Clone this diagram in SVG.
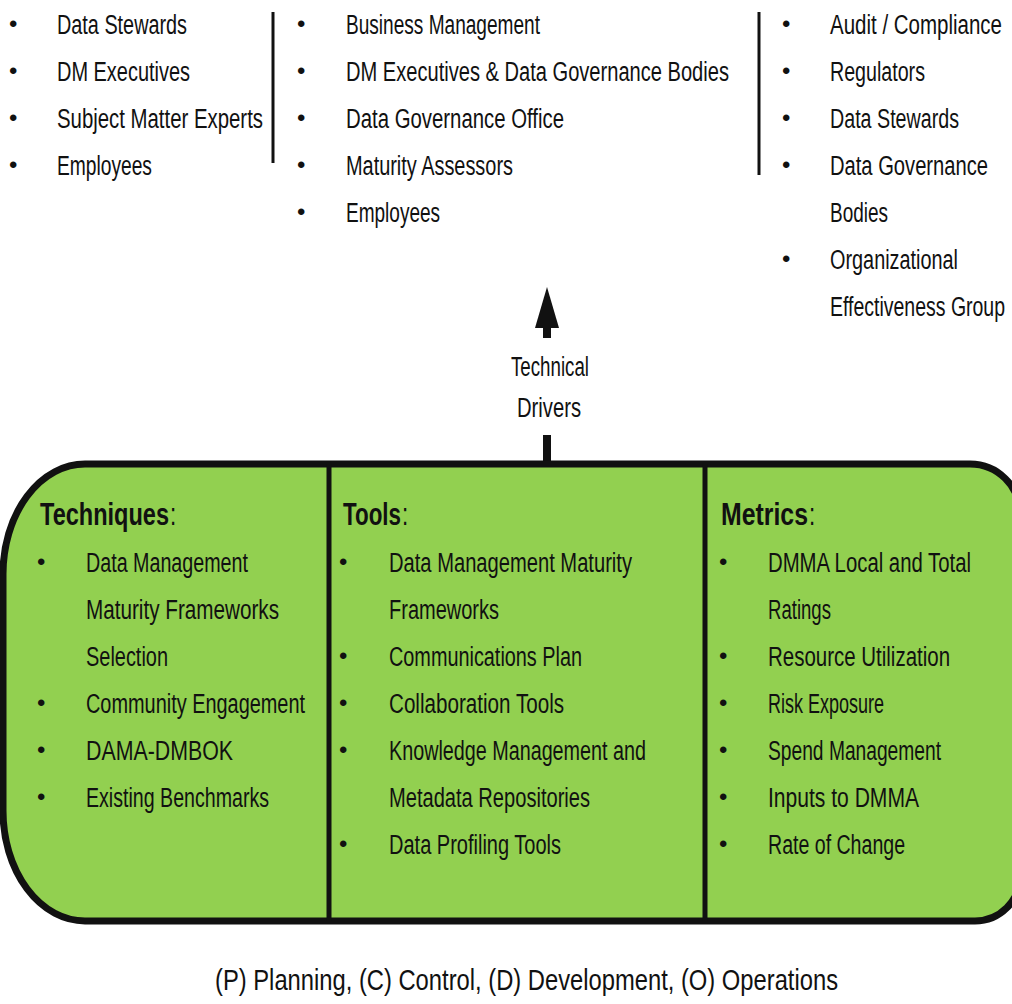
<svg xmlns="http://www.w3.org/2000/svg" width="1012" height="1004" viewBox="0 0 1012 1004">
<style>
.t{font-family:"Liberation Sans",Arial,sans-serif;font-size:28px;fill:#111;}
.b{font-family:"Liberation Sans",Arial,sans-serif;font-size:24px;fill:#111;}
.h{font-family:"Liberation Sans",Arial,sans-serif;font-size:31px;font-weight:bold;fill:#111;}
.hc{font-family:"Liberation Sans",Arial,sans-serif;font-size:31px;fill:#111;}
.sep{stroke:#111;stroke-width:3;}
.div{stroke:#111;stroke-width:5;}
.box{fill:#92D050;stroke:#111;stroke-width:7;}
.foot{font-family:"Liberation Sans",Arial,sans-serif;font-size:30px;fill:#111;}
</style>
<rect width="1012" height="1004" fill="#fff"/>

<g id="col-left">
<text class="b" x="9" y="32">•</text><text class="t" transform="translate(57,34) scale(0.72,1)" textLength="180.6" lengthAdjust="spacingAndGlyphs">Data Stewards</text>
<text class="b" x="9" y="79">•</text><text class="t" transform="translate(57,81) scale(0.72,1)" textLength="184.7" lengthAdjust="spacingAndGlyphs">DM Executives</text>
<text class="b" x="9" y="126">•</text><text class="t" transform="translate(57,128) scale(0.72,1)" textLength="286.1" lengthAdjust="spacingAndGlyphs">Subject Matter Experts</text>
<text class="b" x="9" y="173">•</text><text class="t" transform="translate(57,175) scale(0.72,1)" textLength="131.9" lengthAdjust="spacingAndGlyphs">Employees</text>
<line class="sep" x1="273" y1="12" x2="273" y2="163"/>
</g>

<g id="col-middle">
<text class="b" x="297" y="32">•</text><text class="t" transform="translate(346,34) scale(0.72,1)" textLength="269.4" lengthAdjust="spacingAndGlyphs">Business Management</text>
<text class="b" x="297" y="79">•</text><text class="t" transform="translate(346,81) scale(0.72,1)" textLength="531.9" lengthAdjust="spacingAndGlyphs">DM Executives &amp; Data Governance Bodies</text>
<text class="b" x="297" y="126">•</text><text class="t" transform="translate(346,128) scale(0.72,1)" textLength="302.8" lengthAdjust="spacingAndGlyphs">Data Governance Office</text>
<text class="b" x="297" y="173">•</text><text class="t" transform="translate(346,175) scale(0.72,1)" textLength="231.9" lengthAdjust="spacingAndGlyphs">Maturity Assessors</text>
<text class="b" x="297" y="220">•</text><text class="t" transform="translate(346,222) scale(0.72,1)" textLength="130.6" lengthAdjust="spacingAndGlyphs">Employees</text>
<line class="sep" x1="759" y1="12" x2="759" y2="175"/>
</g>

<g id="col-right">
<text class="b" x="782" y="32">•</text><text class="t" transform="translate(830,34) scale(0.72,1)" textLength="238.9" lengthAdjust="spacingAndGlyphs">Audit / Compliance</text>
<text class="b" x="782" y="79">•</text><text class="t" transform="translate(830,81) scale(0.72,1)" textLength="131.9" lengthAdjust="spacingAndGlyphs">Regulators</text>
<text class="b" x="782" y="126">•</text><text class="t" transform="translate(830,128) scale(0.72,1)" textLength="179.2" lengthAdjust="spacingAndGlyphs">Data Stewards</text>
<text class="b" x="782" y="173">•</text><text class="t" transform="translate(830,175) scale(0.72,1)" textLength="219.4" lengthAdjust="spacingAndGlyphs">Data Governance</text>
<text class="t" transform="translate(830,222) scale(0.72,1)" textLength="80.6" lengthAdjust="spacingAndGlyphs">Bodies</text>
<text class="b" x="782" y="267">•</text><text class="t" transform="translate(830,269) scale(0.72,1)" textLength="177.8" lengthAdjust="spacingAndGlyphs">Organizational</text>
<text class="t" transform="translate(830,316) scale(0.72,1)" textLength="243.1" lengthAdjust="spacingAndGlyphs">Effectiveness Group</text>
</g>

<g id="connectors">
<polygon points="547,287 535,328 559,328" fill="#111"/>
<rect x="543" y="327" width="8" height="11" fill="#111"/>
<rect x="543" y="435" width="8" height="27" fill="#111"/>
</g>

<g id="technical-drivers">
<text class="t" transform="translate(511,376) scale(0.72,1)" textLength="108.3" lengthAdjust="spacingAndGlyphs">Technical</text>
<text class="t" transform="translate(517,417) scale(0.72,1)" textLength="88.9" lengthAdjust="spacingAndGlyphs">Drivers</text>
</g>

<g id="main-box">
<path class="box" d="M85 464 H970 A50 50 0 0 1 1020 514 V876 A45 45 0 0 1 975 921 H85 A82 110 0 0 1 3 811 V574 A82 110 0 0 1 85 464 Z"/>
<line class="div" x1="329" y1="464" x2="329" y2="921"/>
<line class="div" x1="705" y1="464" x2="705" y2="921"/>
</g>

<g id="techniques">
<text class="h" transform="translate(40,525) scale(0.72,1)" textLength="179.2" lengthAdjust="spacingAndGlyphs">Techniques</text><text class="hc" transform="translate(170,525) scale(0.72,1)">:</text>
<text class="b" x="37" y="570">•</text><text class="t" transform="translate(86,572) scale(0.72,1)" textLength="225" lengthAdjust="spacingAndGlyphs">Data Management</text>
<text class="t" transform="translate(86,619) scale(0.72,1)" textLength="268.1" lengthAdjust="spacingAndGlyphs">Maturity Frameworks</text>
<text class="t" transform="translate(86,666) scale(0.72,1)" textLength="113.9" lengthAdjust="spacingAndGlyphs">Selection</text>
<text class="b" x="37" y="711">•</text><text class="t" transform="translate(86,713) scale(0.72,1)" textLength="304.2" lengthAdjust="spacingAndGlyphs">Community Engagement</text>
<text class="b" x="37" y="758">•</text><text class="t" transform="translate(86,760) scale(0.72,1)" textLength="204.2" lengthAdjust="spacingAndGlyphs">DAMA-DMBOK</text>
<text class="b" x="37" y="805">•</text><text class="t" transform="translate(86,807) scale(0.72,1)" textLength="254.2" lengthAdjust="spacingAndGlyphs">Existing Benchmarks</text>
</g>

<g id="tools">
<text class="h" transform="translate(343,525) scale(0.72,1)" textLength="80.6" lengthAdjust="spacingAndGlyphs">Tools</text><text class="hc" transform="translate(402,525) scale(0.72,1)">:</text>
<text class="b" x="339" y="570">•</text><text class="t" transform="translate(389,572) scale(0.72,1)" textLength="337.5" lengthAdjust="spacingAndGlyphs">Data Management Maturity</text>
<text class="t" transform="translate(389,619) scale(0.72,1)" textLength="152.8" lengthAdjust="spacingAndGlyphs">Frameworks</text>
<text class="b" x="339" y="664">•</text><text class="t" transform="translate(389,666) scale(0.72,1)" textLength="268.1" lengthAdjust="spacingAndGlyphs">Communications Plan</text>
<text class="b" x="339" y="711">•</text><text class="t" transform="translate(389,713) scale(0.72,1)" textLength="243.1" lengthAdjust="spacingAndGlyphs">Collaboration Tools</text>
<text class="b" x="339" y="758">•</text><text class="t" transform="translate(389,760) scale(0.72,1)" textLength="356.9" lengthAdjust="spacingAndGlyphs">Knowledge Management and</text>
<text class="t" transform="translate(389,807) scale(0.72,1)" textLength="279.2" lengthAdjust="spacingAndGlyphs">Metadata Repositories</text>
<text class="b" x="339" y="852">•</text><text class="t" transform="translate(389,854) scale(0.72,1)" textLength="238.9" lengthAdjust="spacingAndGlyphs">Data Profiling Tools</text>
</g>

<g id="metrics">
<text class="h" transform="translate(721,525) scale(0.72,1)" textLength="120.8" lengthAdjust="spacingAndGlyphs">Metrics</text><text class="hc" transform="translate(809,525) scale(0.72,1)">:</text>
<text class="b" x="719" y="570">•</text><text class="t" transform="translate(768,572) scale(0.72,1)" textLength="281.9" lengthAdjust="spacingAndGlyphs">DMMA Local and Total</text>
<text class="t" transform="translate(768,619) scale(0.72,1)" textLength="87.5" lengthAdjust="spacingAndGlyphs">Ratings</text>
<text class="b" x="719" y="664">•</text><text class="t" transform="translate(768,666) scale(0.72,1)" textLength="252.8" lengthAdjust="spacingAndGlyphs">Resource Utilization</text>
<text class="b" x="719" y="711">•</text><text class="t" transform="translate(768,713) scale(0.72,1)" textLength="161.1" lengthAdjust="spacingAndGlyphs">Risk Exposure</text>
<text class="b" x="719" y="758">•</text><text class="t" transform="translate(768,760) scale(0.72,1)" textLength="240.3" lengthAdjust="spacingAndGlyphs">Spend Management</text>
<text class="b" x="719" y="805">•</text><text class="t" transform="translate(768,807) scale(0.72,1)" textLength="209.7" lengthAdjust="spacingAndGlyphs">Inputs to DMMA</text>
<text class="b" x="719" y="852">•</text><text class="t" transform="translate(768,854) scale(0.72,1)" textLength="190.3" lengthAdjust="spacingAndGlyphs">Rate of Change</text>
</g>

<g id="footer">
<text class="foot" transform="translate(215,990) scale(0.74,1)" textLength="841.9" lengthAdjust="spacingAndGlyphs">(P) Planning, (C) Control, (D) Development, (O) Operations</text>
</g>
</svg>
